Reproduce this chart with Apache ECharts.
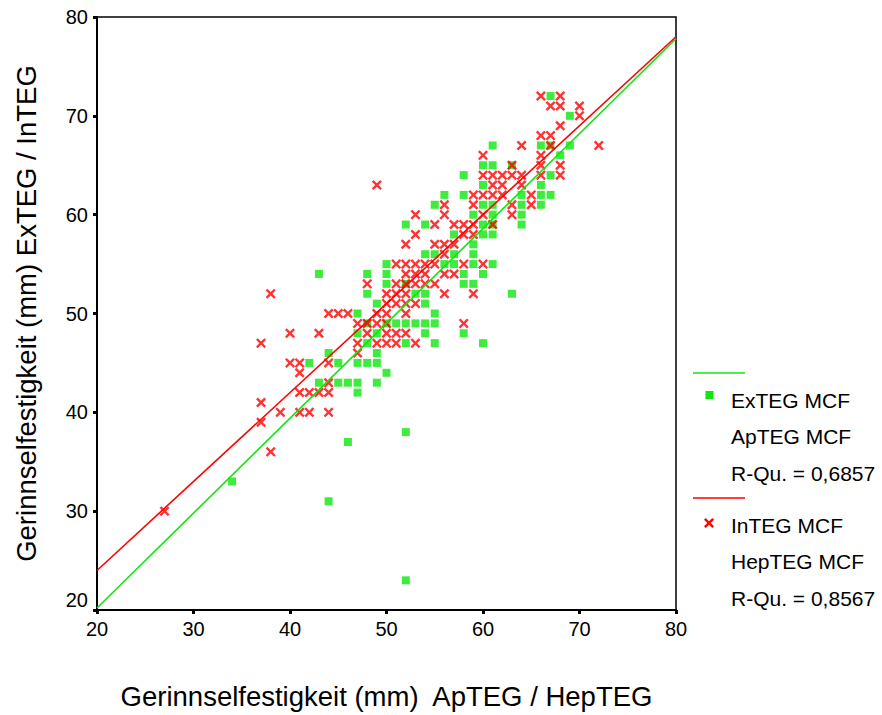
<!DOCTYPE html>
<html><head><meta charset="utf-8">
<script src="https://cdn.jsdelivr.net/npm/echarts@6/dist/echarts.min.js"></script>
<style>html,body{margin:0;padding:0;background:#fff}#c{width:882px;height:715px}</style>
</head><body><div id="c"></div>
<script>
// ---- data ----
const xAxisTitle = 'Gerinnselfestigkeit (mm)  ApTEG / HepTEG';
const yAxisTitle = 'Gerinnselfestigkeit (mm) ExTEG / InTEG';
const axisMin = 20, axisMax = 80, axisStep = 10;
const greenLegend = ['ExTEG MCF', 'ApTEG MCF', 'R-Qu. = 0,6857'];
const redLegend = ['InTEG MCF', 'HepTEG MCF', 'R-Qu. = 0,8567'];
// ExTEG vs ApTEG (x = ApTEG, y = ExTEG)
const exTegPoints = [
 [34,33],[44,31],[46,37],[52,38],[52,23],[43,54],[48,54],[48,52],
 [47,42],[43,43],[45,43],[46,43],[47,43],[49,43],[50,44],
 [42,45],[45,45],[47,45],[48,45],[49,45],[44,46],[49,46],
 [48,47],[52,47],[55,47],[60,47],[47,48],[49,48],[54,48],[58,48],
 [48,49],[50,49],[51,49],[52,49],[53,49],[54,49],[55,49],
 [47,50],[55,50],[49,51],[54,51],[53,52],[54,52],[63,52],
 [50,53],[52,53],[58,53],[59,53],[50,54],[58,54],[60,54],
 [50,55],[56,55],[57,55],[59,55],[61,55],[54,56],[55,56],[57,56],[59,56],
 [59,57],[57,58],[60,58],[61,58],[52,59],[54,59],[60,59],[61,59],[64,59],
 [59,60],[61,60],[64,60],[55,61],[60,61],[61,61],[64,61],[66,61],
 [56,62],[58,62],[64,62],[66,62],[67,62],[60,63],[66,63],[58,64],[67,64],
 [60,65],[61,65],[63,65],[68,66],[61,67],[66,67],[67,67],[69,67],[69,70],[67,72]
];
// InTEG vs HepTEG (x = HepTEG, y = InTEG)
const inTegPoints = [
 [27,30],[38,36],[37,39],[37,41],[37,47],[38,52],[49,63],
 [39,40],[41,40],[42,40],[44,40],[41,42],[42,42],[43,42],[44,42],
 [44,43],[41,44],[40,45],[41,45],[44,45],[47,46],
 [47,47],[49,47],[50,47],[51,47],[53,47],
 [40,48],[43,48],[48,48],[50,48],[51,48],[52,48],
 [47,49],[48,49],[49,49],[50,49],[58,49],
 [44,50],[45,50],[46,50],[49,50],[50,50],[52,50],
 [50,51],[51,51],[52,51],[53,51],[50,52],[51,52],[52,52],[56,52],[59,52],
 [48,53],[51,53],[52,53],[53,53],[54,53],[55,53],
 [52,54],[53,54],[54,54],[56,54],[57,54],
 [51,55],[52,55],[53,55],[54,55],[55,55],[58,55],[60,55],[56,56],
 [52,57],[55,57],[56,57],[57,57],[53,58],[58,58],[59,58],
 [55,59],[57,59],[58,59],[59,59],[61,59],[53,60],[56,60],[60,60],[63,60],
 [56,61],[59,61],[63,61],[65,61],[59,62],[60,62],[61,62],[62,62],[65,62],
 [61,63],[62,63],[64,63],[60,64],[61,64],[62,64],[63,64],[64,64],[66,64],[68,64],
 [63,65],[66,65],[68,65],[60,66],[66,66],[64,67],[67,67],[72,67],
 [66,68],[67,68],[68,69],[70,70],[67,71],[68,71],[70,71],[66,72],[68,72]
];
// linear fits (endpoints at x = 20 and x = 80)
const fitX = [20, 80];
const exTegFitY = [20.2, 77.8];
const inTegFitY = [24.0, 78.0];

// ---- style ----
const GREEN = '#0ee60e', RED = '#ff0000';
const FONT = '"Liberation Sans", Arial, sans-serif';
const XPTS = [[0,1.7],[1.7,0],[5,3.3],[8.3,0],[10,1.7],[6.7,5],[10,8.3],[8.3,10],[5,6.7],[1.7,10],[0,8.3],[3.3,5]];
const XPATH = 'M' + XPTS.map(p => p.join(',')).join('L') + 'Z';

const chart = echarts.init(document.getElementById('c'), null, {renderer: 'svg'});

function axis(name, gap, isY) {
  return {
    type: 'value', min: axisMin, max: axisMax, interval: axisStep,
    name: name, nameLocation: 'middle', nameGap: gap,
    nameTextStyle: {fontFamily: FONT, fontSize: 27.5, color: '#000'},
    axisLine: {show: true, lineStyle: {color: '#000', width: 2}},
    axisTick: {show: true, length: 4, lineStyle: {color: '#000', width: 3}},
    axisLabel: Object.assign({fontFamily: FONT, fontSize: 20, color: '#000', margin: 9},
      isY ? {verticalAlignMinLabel: 'bottom'} : {}),
    splitLine: {show: false}
  };
}

const legendGraphics = [];
function addLegend(color, lineY, marker, texts) {
  legendGraphics.push({type: 'line', shape: {x1: 693, y1: lineY, x2: 745, y2: lineY},
    style: {stroke: color, lineWidth: 1.5}});
  legendGraphics.push(marker);
  texts.forEach((t, i) => legendGraphics.push({type: 'text', x: 731, y: lineY + 27 + i * 36.8,
    style: {text: t, fontFamily: FONT, fontSize: 21, fill: '#000', verticalAlign: 'middle'}}));
}
addLegend(GREEN, 373, {type: 'rect', shape: {x: 705.5, y: 391, width: 8, height: 8}, style: {fill: GREEN}}, greenLegend);
addLegend(RED, 498, {type: 'polygon',
  shape: {points: XPTS.map(p => [704 + 1.0 * p[0], 518 + 1.0 * p[1]])}, style: {fill: RED}}, redLegend);

chart.setOption({
  animation: false,
  backgroundColor: '#fff',
  grid: {left: 97, top: 17, right: 206, bottom: 105, show: true, borderColor: '#000', borderWidth: 1.5},
  xAxis: axis(xAxisTitle, 72, false),
  yAxis: axis(yAxisTitle, 57, true),
  series: [
    {type: 'scatter', name: greenLegend[0], data: exTegPoints, symbol: 'rect', symbolSize: 8,
     itemStyle: {color: GREEN}, z: 2},
    {type: 'scatter', name: redLegend[0], data: inTegPoints, symbol: 'path://' + XPATH, symbolSize: 10,
     itemStyle: {color: RED}, z: 3},
    {type: 'line', data: fitX.map((x, i) => [x, exTegFitY[i]]), symbol: 'none',
     lineStyle: {color: GREEN, width: 1.6}, z: 4},
    {type: 'line', data: fitX.map((x, i) => [x, inTegFitY[i]]), symbol: 'none',
     lineStyle: {color: RED, width: 1.6}, z: 4}
  ],
  graphic: legendGraphics
});
</script></body></html>
